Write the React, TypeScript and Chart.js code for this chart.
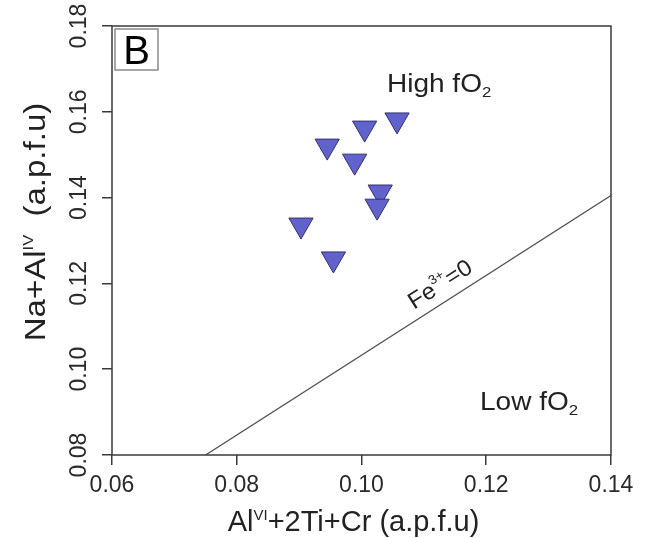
import React, { useEffect, useRef } from 'react';
import { Chart, registerables } from 'chart.js';

Chart.register(...registerables);

// Measured samples: AlVI+2Ti+Cr (x) vs Na+AlIV (y)
const xValues = [0.1057, 0.1005, 0.0945, 0.0989, 0.1030, 0.1025, 0.0903, 0.0955];
const yValues = [0.1581, 0.1562, 0.1520, 0.1485, 0.1413, 0.1380, 0.1336, 0.1257];

// Fe3+ = 0 reference line
const lineX = [0.075, 0.14];
const lineY = [0.08, 0.1405];

const xTicks = [0.06, 0.08, 0.10, 0.12, 0.14];
const yTicks = [0.08, 0.10, 0.12, 0.14, 0.16, 0.18];
const xTickLabels = ['0.06', '0.08', '0.10', '0.12', '0.14'];
const yTickLabels = ['0.08', '0.10', '0.12', '0.14', '0.16', '0.18'];

const FAMILY = '"Liberation Sans", Arial, Helvetica, sans-serif';

type Seg = { t: string; size: number; dy: number };

function segWidth(ctx: CanvasRenderingContext2D, segs: Seg[]) {
  let w = 0;
  for (const s of segs) {
    ctx.font = `${s.size}px ${FAMILY}`;
    w += ctx.measureText(s.t).width;
  }
  return w;
}

// draws segments starting at local origin (after any transform), stretched by sx along the text
function drawSegs(ctx: CanvasRenderingContext2D, segs: Seg[], x: number, y: number, sx = 1) {
  ctx.save();
  ctx.translate(x, y);
  ctx.scale(sx, 1);
  let cx = 0;
  ctx.textBaseline = 'alphabetic';
  ctx.textAlign = 'left';
  for (const s of segs) {
    ctx.font = `${s.size}px ${FAMILY}`;
    ctx.fillText(s.t, cx, s.dy);
    cx += ctx.measureText(s.t).width;
  }
  ctx.restore();
}

const decorPlugin = {
  id: 'decor',
  afterDraw(chart: any) {
    const { ctx, chartArea, scales } = chart;
    const xs = scales.x;
    const ys = scales.y;
    ctx.save();

    // frame
    ctx.strokeStyle = '#3a3a3a';
    ctx.lineWidth = 1.5;
    ctx.strokeRect(chartArea.left, chartArea.top, chartArea.right - chartArea.left, chartArea.bottom - chartArea.top);

    // y tick labels (rotated)
    ctx.fillStyle = '#2a2a2a';
    ctx.font = `23px ${FAMILY}`;
    yTicks.forEach((v, i) => {
      const py = ys.getPixelForValue(v);
      ctx.save();
      ctx.translate(86, py);
      ctx.rotate(-Math.PI / 2);
      ctx.textAlign = 'center';
      ctx.textBaseline = 'alphabetic';
      ctx.fillText(yTickLabels[i], 0, 0);
      ctx.restore();
    });

    // x title
    const xt: Seg[] = [
      { t: 'Al', size: 29, dy: 0 },
      { t: 'VI', size: 15, dy: -11 },
      { t: '+2Ti+Cr (a.p.f.u)', size: 29, dy: 0 },
    ];
    const xtw = segWidth(ctx, xt);
    ctx.fillStyle = '#222';
    drawSegs(ctx, xt, (chartArea.left + chartArea.right) / 2 - 8 - xtw / 2, 531);

    // y title
    const ysx = 1.1;
    const yt: Seg[] = [
      { t: 'Na+Al', size: 30, dy: 0 },
      { t: 'IV', size: 15, dy: -12 },
      { t: '  (a.p.f.u)', size: 30, dy: 0 },
    ];
    const ytw = segWidth(ctx, yt) * ysx;
    ctx.save();
    ctx.translate(45, 222);
    ctx.rotate(-Math.PI / 2);
    drawSegs(ctx, yt, -ytw / 2, 0, ysx);
    ctx.restore();

    // panel letter box
    ctx.strokeStyle = '#8a8a8a';
    ctx.lineWidth = 1.5;
    ctx.strokeRect(115, 29, 43, 41);
    ctx.fillStyle = '#000';
    ctx.font = `40px ${FAMILY}`;
    ctx.textAlign = 'center';
    ctx.textBaseline = 'alphabetic';
    ctx.fillText('B', 136.5, 64);

    // region labels
    ctx.fillStyle = '#222';
    drawSegs(ctx, [
      { t: 'High fO', size: 25, dy: 0 },
      { t: '2', size: 15, dy: 5 },
    ], 387, 92, 1.12);
    drawSegs(ctx, [
      { t: 'Low fO', size: 25, dy: 0 },
      { t: '2', size: 15, dy: 5 },
    ], 480, 410, 1.12);

    // Fe3+=0 label along the line
    const p1x = xs.getPixelForValue(lineX[0]);
    const p1y = ys.getPixelForValue(lineY[0]);
    const p2x = xs.getPixelForValue(lineX[1]);
    const p2y = ys.getPixelForValue(lineY[1]);
    const ang = Math.atan2(p2y - p1y, p2x - p1x);
    const t = 0.515;
    const bx = p1x + (p2x - p1x) * t;
    const by = p1y + (p2y - p1y) * t;
    ctx.save();
    ctx.translate(bx, by);
    ctx.rotate(ang);
    drawSegs(ctx, [
      { t: 'Fe', size: 23, dy: 0 },
      { t: '3+', size: 13, dy: -11 },
      { t: '=0', size: 23, dy: 0 },
    ], 6, -10, 1.05);
    ctx.restore();

    ctx.restore();
  },
};

export default function App() {
  const ref = useRef<HTMLCanvasElement | null>(null);

  useEffect(() => {
    document.body.style.margin = '0';
    const canvas = ref.current;
    if (!canvas) return;
    const points = xValues.map((x, i) => ({ x, y: yValues[i] }));
    const linePts = lineX.map((x, i) => ({ x, y: lineY[i] }));

    const chart = new Chart(canvas, {
      type: 'scatter',
      data: {
        datasets: [
          {
            type: 'line',
            data: linePts,
            borderColor: '#505050',
            borderWidth: 1.3,
            pointRadius: 0,
            fill: false,
            order: 2,
          } as any,
          {
            type: 'scatter',
            data: points,
            pointStyle: 'triangle',
            rotation: 180,
            pointRadius: 14,
            backgroundColor: '#6262cc',
            borderColor: '#33336e',
            borderWidth: 1,
            order: 1,
          } as any,
        ],
      },
      options: {
        animation: false,
        responsive: false,
        maintainAspectRatio: false,
        layout: { padding: { left: 0, top: 26, right: 37, bottom: 0 } },
        plugins: { legend: { display: false }, tooltip: { enabled: false } },
        scales: {
          x: {
            type: 'linear',
            min: 0.06,
            max: 0.14,
            afterBuildTicks: (s: any) => {
              s.ticks = xTicks.map((v) => ({ value: v }));
            },
            afterFit: (s: any) => {
              s.height = 83;
            },
            ticks: {
              callback: (_v: any, i: number) => xTickLabels[i],
              font: { family: FAMILY, size: 23 },
              color: '#2a2a2a',
              padding: 7,
              maxRotation: 0,
              autoSkip: false,
            },
            grid: { drawOnChartArea: false, drawTicks: true, tickLength: 10, color: '#3a3a3a', lineWidth: 1.5 },
            border: { display: false },
          },
          y: {
            type: 'linear',
            min: 0.08,
            max: 0.18,
            afterBuildTicks: (s: any) => {
              s.ticks = yTicks.map((v) => ({ value: v }));
            },
            afterFit: (s: any) => {
              s.width = 112;
            },
            ticks: { display: false },
            grid: { drawOnChartArea: false, drawTicks: true, tickLength: 10, color: '#3a3a3a', lineWidth: 1.5 },
            border: { display: false },
          },
        },
      } as any,
      plugins: [decorPlugin],
    });
    return () => chart.destroy();
  }, []);

  return <canvas ref={ref} width={648} height={538} style={{ display: 'block' }} />;
}
